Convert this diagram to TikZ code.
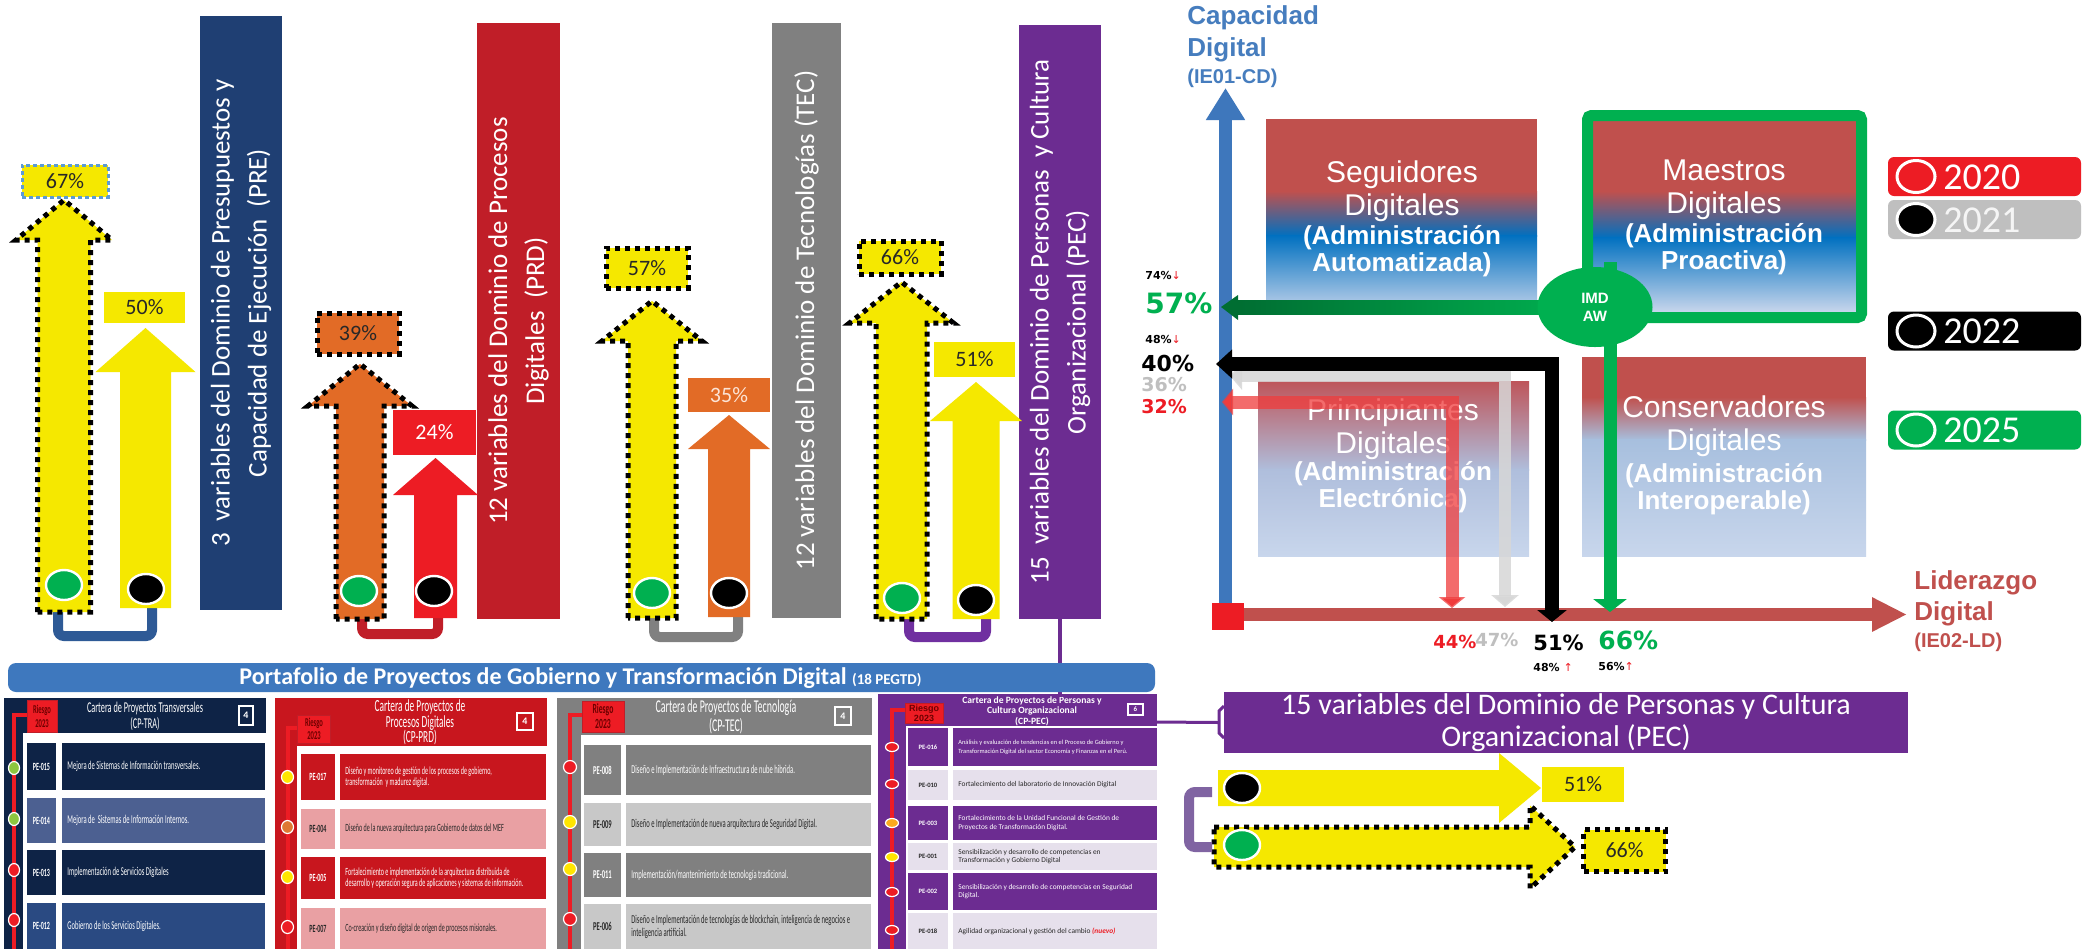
\documentclass[tikz,border=0pt]{standalone}
\usepackage{fontspec}
\setmainfont{Carlito}
\newfontfamily\cnd{Carlito}[FakeStretch=0.55]
\newfontfamily\arl{Liberation Sans}
\newfontfamily\dvs{DejaVu Sans}
\usetikzlibrary{arrows.meta,shapes.geometric}
\definecolor{yel}{RGB}{245,232,0}
\definecolor{orn}{RGB}{226,107,38}
\definecolor{rdA}{RGB}{237,28,36}
\definecolor{preB}{RGB}{31,63,115}
\definecolor{prdR}{RGB}{192,30,40}
\definecolor{tecG}{RGB}{128,128,128}
\definecolor{pecP}{RGB}{108,44,145}
\definecolor{brB}{RGB}{46,90,150}
\definecolor{brP}{RGB}{112,48,160}
\definecolor{brP2}{RGB}{128,100,162}
\definecolor{qred}{RGB}{192,80,77}
\definecolor{qblue}{RGB}{0,112,192}
\definecolor{qlight}{RGB}{200,214,236}
\definecolor{qlb}{RGB}{167,191,222}
\definecolor{pr1}{RGB}{190,85,90}
\definecolor{pr2}{RGB}{175,190,220}
\definecolor{axB}{RGB}{62,119,188}
\definecolor{capB}{RGB}{70,125,190}
\definecolor{grn}{RGB}{0,176,80}
\definecolor{dgrn}{RGB}{0,110,50}
\definecolor{portB}{RGB}{62,120,190}
\definecolor{navy}{RGB}{14,35,70}
\definecolor{slate}{RGB}{76,96,145}
\definecolor{blueB}{RGB}{42,74,130}
\definecolor{cred}{RGB}{200,22,30}
\definecolor{pink}{RGB}{233,160,163}
\definecolor{lgray}{RGB}{200,200,200}
\definecolor{lav}{RGB}{230,224,236}
\definecolor{tgreen}{RGB}{141,198,63}
\definecolor{tyel}{RGB}{255,230,0}
\definecolor{torn}{RGB}{222,120,50}
\definecolor{torn2}{RGB}{250,170,30}
\definecolor{dtext}{RGB}{40,40,40}
\definecolor{lblue}{RGB}{91,155,213}
\definecolor{gtxt}{RGB}{191,191,191}
\definecolor{rtxt}{RGB}{110,0,0}
\definecolor{lgy}{RGB}{215,215,215}
\definecolor{rarr}{RGB}{240,60,60}
\newcommand{\varr}[7]{\path[#7] ({#1-#2},#6) -- ({#1-#2},#4) -- ({#1-#3},#4) -- (#1,#5) -- ({#1+#3},#4) -- ({#1+#2},#4) -- ({#1+#2},#6) -- cycle;}
\newcommand{\harr}[7]{\path[#7] (#4,{#1-#2}) -- (#5,{#1-#2}) -- (#5,{#1-#3}) -- (#6,#1) -- (#5,{#1+#3}) -- (#5,{#1+#2}) -- (#4,{#1+#2}) -- cycle;}
\newcommand{\crow}[6]{%
 \fill[#3] (\cxa,#1) rectangle (\cxb,#2);
 \fill[#3] (\cxc,#1) rectangle (\cxd,#2);
 \node[text=#4, font=\codefont, inner sep=0] (c#5) at ({(\cxa+\cxb)/2},{(#1+#2)/2}) {PE-#5};
 \node[text=#4, font=\rowfont, inner sep=0, anchor=west, align=left] (d#5) at ({\cxc+5},{(#1+#2)/2}) {#6};}
\newcommand{\tdot}[6]{\node[ellipse, draw=white, line width=0.6pt, fill=#4, minimum width=#5pt, minimum height=#6pt, inner sep=0] (#1) at (#2,#3) {};}
\begin{document}
\begin{tikzpicture}[x=0.5pt,y=-0.5pt,
 dotline/.style={draw=black, line width=2.5pt, dash pattern=on 2.5pt off 2.5pt},
 pct/.style={font=\fontsize{11}{12}\selectfont, text=dtext, inner sep=0},
 barlab/.style={rotate=90, inner sep=0, align=center, text=white, font=\fontsize{13.5}{18.5}\selectfont},
 brk/.style={line width=5pt, rounded corners=3pt},
 ydot/.style={ellipse, draw=white, line width=1.2pt, minimum width=18pt, minimum height=15pt, inner sep=0},
 qtxt/.style={text=white, align=center, inner sep=0, font=\arl\fontsize{15}{16.5}\selectfont},
 qtxtb/.style={text=white, align=center, inner sep=0, font=\arl\bfseries\fontsize{13}{13.5}\selectfont},
 bigp/.style={inner sep=0, anchor=west, font=\dvs\bfseries},
 smallp/.style={inner sep=0, anchor=west, font=\dvs\bfseries\fontsize{5.5}{6}\selectfont},
 ttl/.style={text=white, align=center, inner sep=0},
 numbox/.style={draw=white, line width=0.8pt, inner sep=0, text=white, font=\bfseries\fontsize{5}{5}\selectfont},
 rsk/.style={fill=rdA, draw=prdR, line width=0.4pt, inner sep=0, align=center, text=rtxt},
 legbox/.style={rounded corners=3pt, minimum width=96.5pt, minimum height=19.5pt, inner sep=0},
 legcirc/.style={ellipse, draw=white, line width=1.5pt, minimum width=19pt, minimum height=16pt, inner sep=0},
 legtxt/.style={anchor=west, font=\fontsize{19}{20}\selectfont, inner sep=0},
 tline/.style={draw=rdA, line width=2pt}]
\useasboundingbox (0,0) rectangle (2094,949);
\fill[white] (0,0) rectangle (2094,949);

% ---------- domain bars ----------
\node[barlab, fill=preB, minimum width=297pt, minimum height=41pt] (pre) at (241,313) {3~ variables del Dominio de Presupuestos y\\Capacidad de Ejecución~ (PRE)};
\node[barlab, fill=prdR, minimum width=298pt, minimum height=41.5pt] (prd) at (518.5,321) {12 variables del Dominio de Procesos\\Digitales~ (PRD)};
\node[barlab, fill=tecG, minimum width=297.5pt, minimum height=34.5pt] (tec) at (806.5,320.5) {12 variables del Dominio de Tecnologías (TEC)};
\node[barlab, fill=pecP, minimum width=297pt, minimum height=41pt] (pec) at (1060,322) {15~ variables del Dominio de Personas~ y Cultura\\Organizacional (PEC)};

% ---------- brackets ----------
\draw[brk, draw=brB] (58,612) -- (58,636) -- (152,636) -- (152,608);
\draw[brk, draw=prdR] (362,619) -- (362,634) -- (438,634) -- (438,618);
\draw[brk, draw=tecG] (654,618) -- (654,637) -- (738,637) -- (738,617);
\draw[brk, draw=brP] (909,619) -- (909,637) -- (986,637) -- (986,619);

% ---------- vertical arrows ----------
\varr{64}{26.5}{48}{240}{200}{612}{fill=yel}
\varr{64}{26.5}{48}{240}{200}{612}{dotline}
\varr{145.5}{25.5}{50}{372}{328}{608}{fill=yel}
\varr{360}{24}{52}{406}{364}{619}{fill=orn}
\varr{360}{24}{52}{406}{364}{619}{dotline}
\varr{435.5}{21.5}{42.5}{495}{458}{618}{fill=rdA}
\varr{652}{24}{50}{341}{301}{618}{fill=yel}
\varr{652}{24}{50}{341}{301}{618}{dotline}
\varr{729}{21}{41}{449}{415}{617}{fill=orn}
\varr{901.5}{25.5}{52}{323}{282}{619}{fill=yel}
\varr{901.5}{25.5}{52}{323}{282}{619}{dotline}
\varr{976}{23.5}{46}{421}{382}{619}{fill=yel}

\node[ydot, fill=grn] (g1) at (64,585) {};
\node[ydot, fill=black] (k1) at (146,589) {};
\node[ydot, fill=grn] (g2) at (359,591) {};
\node[ydot, fill=black] (k2) at (434,591) {};
\node[ydot, fill=grn] (g3) at (652,593) {};
\node[ydot, fill=black] (k3) at (729,593) {};
\node[ydot, fill=grn] (g4) at (902,598) {};
\node[ydot, fill=black] (k4) at (976,600) {};

% ---------- percent boxes ----------
\node[pct, fill=yel, draw=lblue, line width=1.5pt, dash pattern=on 2pt off 1.5pt, minimum width=43pt, minimum height=16pt] (p67) at (65,181) {67\%};
\node[pct, fill=yel, minimum width=40.5pt, minimum height=15.5pt] (p50) at (144.5,307.5) {50\%};
\node[pct, fill=orn, dotline, minimum width=41pt, minimum height=20.5pt] (p39) at (358,333.5) {39\%};
\node[pct, fill=rdA, text=white, minimum width=41.5pt, minimum height=22.5pt] (p24) at (434.5,432.5) {24\%};
\node[pct, fill=yel, dotline, minimum width=41pt, minimum height=20pt] (p57) at (647,268) {57\%};
\node[pct, fill=orn, text={rgb,255:red,252;green,228;blue,214}, minimum width=41pt, minimum height=17pt] (p35) at (729,395) {35\%};
\node[pct, fill=yel, dotline, minimum width=41pt, minimum height=16.5pt] (p66) at (900,257.5) {66\%};
\node[pct, fill=yel, minimum width=40.5pt, minimum height=17.5pt] (p51) at (974.5,359.5) {51\%};

% ---------- quadrant boxes ----------
\fill[qred] (1266,119) rectangle (1537,192);
\shade[top color=qred, bottom color=qblue] (1266,191) rectangle (1537,236);
\shade[top color=qblue, bottom color=qlight] (1266,235) rectangle (1537,314);
\fill[qred] (1593,121) rectangle (1856,192);
\shade[top color=qred, bottom color=qblue] (1593,191) rectangle (1856,238);
\shade[top color=qblue, bottom color=qlight] (1593,237) rectangle (1856,312);
\fill[qred] (1582,357) rectangle (1866,398);
\shade[top color=qred, bottom color=qlb] (1582,397) rectangle (1866,440);
\shade[top color=qlb, bottom color=qlight] (1582,439) rectangle (1866,556);
\shade[top color=pr1, bottom color=pr2] (1258,381) rectangle (1529,470);
\shade[top color=pr2, bottom color=qlight] (1258,469) rectangle (1529,556);

\node[qtxt] (seg1) at (1402,191.5) {Seguidores\\Digitales};
\node[qtxtb] (seg2) at (1402,251.5) {(Administración\\Automatizada)};
\node[qtxt] (pri1) at (1393,429.5) {Principiantes\\Digitales};
\node[qtxtb] (pri2) at (1393,487) {(Administración\\Electrónica)};
\node[qtxt] (mae1) at (1724,189.5) {Maestros\\Digitales};
\node[qtxtb] (mae2) at (1724,249) {(Administración\\Proactiva)};
\node[qtxt] (con1) at (1724,426) {Conservadores\\Digitales};
\node[qtxtb] (con2) at (1724,489.5) {(Administración\\Interoperable)};

% ---------- axes ----------
\draw[axB, line width=6.5pt, -{Triangle[length=16pt,width=18.5pt]}] (1225.5,619) -- (1225.5,88);
\draw[qred, line width=6.5pt, -{Triangle[length=17.5pt,width=16pt]}] (1244,614.5) -- (1907,614.5);
\fill[rdA] (1212,603) rectangle (1244,630);
\draw[grn, line width=5.5pt, rounded corners=2pt] (1587.5,115.5) rectangle (1861.5,317.5);

% ---------- trajectory arrows ----------
\draw[lgy, draw opacity=0.85, line width=6pt, line join=miter, {Triangle[length=6pt,width=13.5pt]}-{Triangle[length=6pt,width=13.5pt]}] (1230,376) -- (1505,376) -- (1505,607);
\draw[rarr, draw opacity=0.75, line width=6.5pt, line join=miter, {Triangle[length=5.5pt,width=13pt]}-{Triangle[length=5.5pt,width=13pt]}] (1222,402) -- (1452,402) -- (1452,608);
\draw[black, line width=7pt, line join=miter, {Triangle[length=8pt,width=14pt]}-{Triangle[length=6pt,width=14.5pt]}] (1216,364) -- (1552,364) -- (1552,622);
\shade[left color=dgrn, right color=grn] (1237,300) rectangle (1580,314);
\fill[dgrn] (1221,307) -- (1238,295) -- (1238,320) -- cycle;
\draw[grn, line width=6.5pt, -{Triangle[length=6.5pt,width=16.5pt]}] (1610,262) -- (1610,612);
\node[ellipse, fill=grn, minimum width=57.5pt, minimum height=40pt, inner sep=0, text=white, font=\arl\bfseries\fontsize{7.5}{9}\selectfont, align=center] (imd) at (1595,307) {IMD\\AW};

% ---------- axis labels ----------
\node[anchor=west, inner sep=0, text=capB, font=\arl\bfseries\fontsize{13}{15}\selectfont] (cap1) at (1187,18) {Capacidad};
\node[anchor=west, inner sep=0, text=capB, font=\arl\bfseries\fontsize{13}{15}\selectfont] (cap2) at (1187,50) {Digital};
\node[anchor=west, inner sep=0, text=capB, font=\arl\bfseries\fontsize{10}{12}\selectfont] (cap3) at (1187,78) {(IE01-CD)};
\node[anchor=west, inner sep=0, text=qred, font=\arl\bfseries\fontsize{13}{15}\selectfont] (lid1) at (1914,583) {Liderazgo};
\node[anchor=west, inner sep=0, text=qred, font=\arl\bfseries\fontsize{13}{15}\selectfont] (lid2) at (1914,614) {Digital};
\node[anchor=west, inner sep=0, text=qred, font=\arl\bfseries\fontsize{10}{12}\selectfont] (lid3) at (1914,642) {(IE02-LD)};

\node[smallp] (s74) at (1145,275) {74\%{\dvs\mdseries\color{rdA}↓}};
\node[bigp, text=grn, font=\dvs\bfseries\fontsize{14}{15}\selectfont] (v57) at (1145,303) {57\%};
\node[smallp] (s48a) at (1145,339) {48\%{\dvs\mdseries\color{rdA}↓}};
\node[bigp, text=black, font=\dvs\bfseries\fontsize{11}{12}\selectfont] (v40) at (1141,363) {40\%};
\node[bigp, text=gtxt, font=\dvs\bfseries\fontsize{9.5}{10}\selectfont] (v36) at (1141,385) {36\%};
\node[bigp, text=rdA, font=\dvs\bfseries\fontsize{9.5}{10}\selectfont] (v32) at (1141,407) {32\%};
\node[bigp, text=rdA, font=\dvs\bfseries\fontsize{9}{10}\selectfont] (v44) at (1433,642) {44\%};
\node[bigp, text=gtxt, font=\dvs\bfseries\fontsize{9}{10}\selectfont] (v47) at (1475,640) {47\%};
\node[bigp, text=black, font=\dvs\bfseries\fontsize{10.5}{11}\selectfont] (v51) at (1533,643) {51\%};
\node[bigp, text=grn, font=\dvs\bfseries\fontsize{12.5}{13}\selectfont] (v66) at (1598,640) {66\%};
\node[smallp] (s48b) at (1533,667) {48\% {\dvs\mdseries\color{rdA}↑}};
\node[smallp] (s56) at (1598,666) {56\%{\dvs\mdseries\color{rdA}↑}};

% ---------- legend ----------
\node[legbox, fill=rdA] (l20) at (1984.5,176.5) {};
\node[legcirc] (o20) at (1916,176.5) {};
\node[legtxt, text=white] (t20) at (1943,177) {2020};
\node[legbox, fill=gtxt] (l21) at (1984.5,219.5) {};
\node[legcirc, fill=black] (o21) at (1916,219.5) {};
\node[legtxt, text={rgb,255:red,245;green,245;blue,245}] (t21) at (1943,220) {2021};
\node[legbox, fill=black] (l22) at (1984.5,331) {};
\node[legcirc] (o22) at (1916,331) {};
\node[legtxt, text=white] (t22) at (1943,331.5) {2022};
\node[legbox, fill=grn] (l25) at (1984.5,430) {};
\node[legcirc] (o25) at (1916,430) {};
\node[legtxt, text=white] (t25) at (1943,430.5) {2025};

% ---------- card 1 ----------
\fill[navy] (4,698) rectangle (266,949);
\fill[white] (23,733) rectangle (266,949);
\draw[tline] (27,715) -- (14,715) -- (14,949);
\node[rsk, minimum width=15pt, minimum height=16pt, font=\cnd\bfseries\fontsize{6}{7}\selectfont] (r1) at (42,716) {Riesgo\\2023};
\node[ttl, font=\cnd\fontsize{7.5}{8}\selectfont] (ct1) at (145,716) {Cartera de Proyectos Transversales\\(CP-TRA)};
\node[numbox, minimum width=7pt, minimum height=9.5pt] (n1) at (246,715.5) {4};
\def\cxa{27}\def\cxb{56}\def\cxc{62}\def\cxd{265}
\def\rowfont{\cnd\fontsize{6}{6.5}\selectfont}
\def\codefont{\cnd\bfseries\fontsize{5.5}{6}\selectfont}
\crow{743}{790}{navy}{white}{015}{Mejora de Sistemas de Información transversales.}
\crow{798}{843}{slate}{white}{014}{Mejora de~ Sistemas de Información Internos.}
\crow{850}{895}{navy}{white}{013}{Implementación de Servicios Digitales}
\crow{903}{949}{blueB}{white}{012}{Gobierno de los Servicios Digitales.}
\tdot{a1}{14}{768}{tgreen}{5.5}{6.5}
\tdot{a2}{14}{819}{tgreen}{5.5}{6.5}
\tdot{a3}{14}{870}{rdA}{5.5}{6.5}
\tdot{a4}{14}{920}{rdA}{5.5}{6.5}

% ---------- card 2 ----------
\fill[cred] (275,698) rectangle (547,949);
\fill[white] (297,746) rectangle (547,949);
\draw[tline] (297.5,728) -- (287.5,728) -- (287.5,949);
\node[rsk, minimum width=16.5pt, minimum height=14pt, font=\cnd\bfseries\fontsize{6}{6.5}\selectfont] (r2) at (314,729) {Riesgo\\2023};
\node[ttl, font=\cnd\fontsize{8.5}{7.75}\selectfont] (ct2) at (420,722.5) {Cartera de Proyectos de\\Procesos Digitales\\(CP-PRD)};
\node[numbox, minimum width=8pt, minimum height=8.5pt] (n2) at (525,721.5) {4};
\def\cxa{301}\def\cxb{335}\def\cxc{340}\def\cxd{546}
\def\rowfont{\cnd\fontsize{5.5}{5.5}\selectfont}
\crow{754}{800}{cred}{white}{017}{Diseño y monitoreo de gestión de los procesos de gobierno,\\transformación~ y madurez digital.}
\crow{809}{849}{pink}{dtext}{004}{Diseño de la nueva arquitectura para Gobierno de datos del MEF}
\crow{857}{899}{cred}{white}{005}{Fortalecimiento e implementación de la arquitectura distribuida de\\desarrollo y operación segura de aplicaciones y sistemas de información.}
\crow{908}{949}{pink}{dtext}{007}{Co-creación y diseño digital de origen de procesos misionales.}
\tdot{b1}{287.5}{777}{tyel}{6}{6.5}
\tdot{b2}{287.5}{827}{torn}{6}{6.5}
\tdot{b3}{287.5}{877}{tyel}{6}{6.5}
\tdot{b4}{287.5}{927}{rdA}{6}{6.5}

% ---------- card 3 ----------
\fill[tecG] (557,698) rectangle (872,949);
\fill[white] (581,735) rectangle (872,949);
\draw[tline] (582,715) -- (570,715) -- (570,949);
\node[rsk, minimum width=21pt, minimum height=15.5pt, font=\cnd\bfseries\fontsize{7}{7.5}\selectfont] (r3) at (603,716.5) {Riesgo\\2023};
\node[ttl, font=\cnd\fontsize{9}{8}\selectfont] (ct3) at (726,717) {Cartera de Proyectos de Tecnología\\(CP-TEC)};
\node[numbox, minimum width=8pt, minimum height=9pt] (n3) at (843,716) {4};
\def\cxa{584}\def\cxb{621}\def\cxc{626}\def\cxd{871}
\def\rowfont{\cnd\fontsize{6}{6.5}\selectfont}
\def\codefont{\cnd\bfseries\fontsize{6}{6}\selectfont}
\crow{745}{795}{tecG}{white}{008}{Diseño e Implementación de Infraestructura de nube hibrida.}
\crow{803}{846}{lgray}{dtext}{009}{Diseño e Implementación de nueva arquitectura de Seguridad Digital.}
\crow{853}{897}{tecG}{white}{011}{Implementación/mantenimiento de tecnología tradicional.}
\crow{904}{949}{lgray}{dtext}{006}{Diseño e Implementación de tecnologías de blockchain, inteligencia de negocios e\\inteligencia artificial.}
\tdot{e1}{570}{767}{rdA}{6.5}{6.5}
\tdot{e2}{570}{822}{tyel}{6.5}{6.5}
\tdot{e3}{570}{869}{tyel}{6.5}{6.5}
\tdot{e4}{570}{919}{rdA}{6.5}{6.5}

% ---------- card 4 ----------
\fill[pecP] (878,694) rectangle (1157,949);
\fill[white] (906,726) rectangle (1157,949);
\draw[tline] (905,710) -- (892,710) -- (892,949);
\node[rsk, minimum width=19pt, minimum height=10pt, font=\arl\bfseries\fontsize{4.5}{5}\selectfont] (r4) at (924,713) {Riesgo\\2023};
\node[ttl, font=\bfseries\fontsize{4.8}{5.25}\selectfont] (ct4) at (1032,711) {Cartera de Proyectos de Personas y\\Cultura Organizacional\\(CP-PEC)};
\node[numbox, minimum width=7.5pt, minimum height=5.5pt, font=\bfseries\fontsize{3.5}{4}\selectfont] (n4) at (1135.5,709.5) {6};
\def\cxa{908}\def\cxb{948}\def\cxc{953}\def\cxd{1157}
\def\rowfont{\fontsize{3.7}{4.4}\selectfont}
\def\codefont{\bfseries\fontsize{3.3}{4}\selectfont}
\crow{728}{766}{pecP}{white}{016}{\fontsize{3.2}{4}\selectfont Análisis y evaluación de tendencias en el Proceso de Gobierno y\\\fontsize{3.2}{4}\selectfont Transformación Digital del sector Economía y Finanzas en el Perú.}
\crow{770}{800}{lav}{dtext}{010}{Fortalecimiento del laboratorio de Innovación Digital}
\crow{806}{840}{pecP}{white}{003}{Fortalecimiento de la Unidad Funcional de Gestión de\\Proyectos de Transformación Digital.}
\crow{843}{870}{lav}{dtext}{001}{Sensibilización y desarrollo de competencias en\\Transformación y Gobierno Digital}
\crow{873}{910}{pecP}{white}{002}{Sensibilización y desarrollo de competencias en Seguridad\\Digital.}
\crow{913}{949}{lav}{dtext}{018}{Agilidad organizacional y gestión del cambio {\color{rdA}\bfseries\itshape(nuevo)}}
\tdot{f1}{892}{747}{rdA}{6.5}{4.5}
\tdot{f2}{892}{784}{rdA}{6.5}{4.5}
\tdot{f3}{892}{823}{torn2}{6.5}{4.5}
\tdot{f4}{892}{857}{tyel}{6.5}{4.5}
\tdot{f5}{892}{892}{rdA}{6.5}{4.5}
\tdot{f6}{892}{930}{rdA}{6.5}{4.5}

% ---------- portfolio bar ----------
\draw[pecP, line width=2pt] (pec.west) -- ++(0,78);
\node[fill=portB, rounded corners=4pt, minimum width=573.5pt, minimum height=14.5pt, inner sep=0] (port) at (581.5,677.5) {};
\node[anchor=west, inner sep=0, text=white, font=\bfseries\fontsize{12}{13}\selectfont] (portt) at (239,678) {Portafolio de Proyectos de Gobierno y Transformación Digital {\fontsize{7.5}{8}\selectfont(18 PEGTD)}};

% ---------- PEC horizontal panel ----------
\node[fill=pecP, text=white, minimum width=342pt, minimum height=30.5pt, align=center, inner sep=0, font=\fontsize{15}{16}\selectfont] (pech) at (1566,722.5) {15 variables del Dominio de Personas y Cultura\\Organizacional (PEC)};
\coordinate (c4r) at (1157,722);
\draw[pecP, line width=1.5pt] (c4r) -- ([xshift=-2.5pt]pech.west);
\draw[pecP, line width=1.5pt] (1224,706) -- (1219,711) -- (1219,733) -- (1224,738);

\harr{788}{18}{35}{1218}{1499}{1541}{fill=yel}
\harr{847}{20}{41.5}{1214}{1530}{1575}{fill=yel}
\harr{847}{20}{41.5}{1214}{1530}{1575}{dotline}
\draw[brk, draw=brP2] (1212,792) -- (1189,792) -- (1189,847) -- (1212,847);
\node[ydot, fill=black] (k5) at (1242,788) {};
\node[ydot, fill=grn] (g5) at (1242,845) {};
\node[pct, fill=yel, minimum width=41pt, minimum height=17.5pt] (p51h) at (1583,784.5) {51\%};
\node[pct, fill=yel, dotline, minimum width=41pt, minimum height=21pt] (p66h) at (1624.5,850.5) {66\%};
\end{tikzpicture}
\end{document}
